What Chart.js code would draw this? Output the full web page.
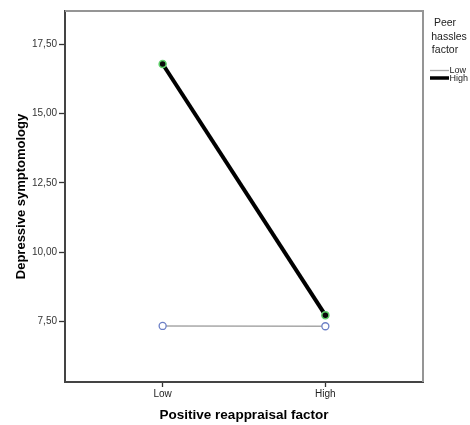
<!DOCTYPE html>
<html>
<head>
<meta charset="utf-8">
<script src="https://cdn.jsdelivr.net/npm/chart.js@4"></script>
<style>
  html, body { margin: 0; padding: 0; background: #fff; }
  #wrap { width: 470px; height: 425px; }
</style>
</head>
<body>
<div id="wrap"><canvas id="c" width="470" height="425"></canvas></div>
<script>
// ---- data ----
const categories = ["Low", "High"];               // Positive reappraisal factor
const seriesNames = ["Low", "High"];              // Peer hassles factor
const lowPeerValues = [7.34, 7.33];
const highPeerValues = [16.78, 7.73];
const yTickValues = [7.5, 10, 12.5, 15, 17.5];
const yRange = [5.32, 18.69];
const legendTitleLines = ["Peer", "hassles", "factor"];

const FONT = "'Liberation Sans', Arial, sans-serif";

function toPoints(vals) {
  return vals.map((v, i) => ({ x: i, y: v }));
}

const framePlugin = {
  id: 'frame',
  afterDraw(chart) {
    const { ctx, chartArea: a } = chart;
    ctx.save();
    ctx.strokeStyle = '#959595';
    ctx.lineWidth = 2;
    ctx.beginPath();
    ctx.moveTo(a.left, a.top);
    ctx.lineTo(a.right, a.top);
    ctx.lineTo(a.right, a.bottom);
    ctx.stroke();
    ctx.restore();
  }
};

const legendPlugin = {
  id: 'customLegend',
  afterDraw(chart) {
    const { ctx } = chart;
    ctx.save();
    ctx.fillStyle = '#222';
    ctx.font = "10.5px " + FONT;
    ctx.textAlign = 'center';
    ctx.textBaseline = 'middle';
    const ys = [23, 37, 50];
    legendTitleLines.forEach((t, i) => {
      const cx = i === 1 ? 449 : 445;
      ctx.fillText(t, cx, ys[i]);
    });
    const ds = chart.data.datasets;
    const rowY = [70.5, 78];
    ds.forEach((d, i) => {
      ctx.strokeStyle = d.borderColor;
      ctx.lineWidth = i === 0 ? 1.3 : 3.5;
      ctx.beginPath();
      ctx.moveTo(430, rowY[i]);
      ctx.lineTo(449, rowY[i]);
      ctx.stroke();
      ctx.textAlign = 'left';
      ctx.font = "9px " + FONT;
      ctx.fillText(d.label, 449.5, rowY[i] + 0.5);
    });
    ctx.restore();
  }
};

new Chart(document.getElementById('c'), {
  type: 'line',
  data: {
    datasets: [
      {
        label: seriesNames[0],
        data: toPoints(lowPeerValues),
        borderColor: '#a8a8a8',
        borderWidth: 1.5,
        pointRadius: 3.5,
        pointBorderWidth: 1.3,
        pointBorderColor: '#6b7fc6',
        pointBackgroundColor: '#ffffff',
        order: 2
      },
      {
        label: seriesNames[1],
        data: toPoints(highPeerValues),
        borderColor: '#000000',
        borderWidth: 4,
        pointRadius: 3.5,
        pointBorderWidth: 1.5,
        pointBorderColor: '#5fcf6a',
        pointBackgroundColor: '#0a0a0a',
        order: 1
      }
    ]
  },
  options: {
    responsive: false,
    animation: false,
    devicePixelRatio: 1,
    layout: { padding: { top: 11, right: 47, left: 0, bottom: 0 } },
    plugins: { legend: { display: false }, tooltip: { enabled: false } },
    scales: {
      x: {
        type: 'linear',
        min: -0.6,
        max: 1.6,
        afterBuildTicks(scale) {
          scale.ticks = categories.map((c, i) => ({ value: i }));
        },
        afterFit(scale) { scale.height = 43; },
        ticks: {
          callback: (v) => categories[v] ?? '',
          color: '#222',
          font: { family: FONT, size: 10 },
          padding: 1,
          maxRotation: 0
        },
        grid: {
          drawOnChartArea: false,
          tickLength: 5,
          tickColor: '#333',
          tickWidth: 1.3
        },
        border: { color: '#444', width: 2 },
        title: {
          display: true,
          text: 'Positive reappraisal factor',
          color: '#000',
          font: { family: FONT, size: 13.5, weight: 'bold' },
          padding: { top: 0, bottom: 2 }
        }
      },
      y: {
        type: 'linear',
        min: yRange[0],
        max: yRange[1],
        afterBuildTicks(scale) {
          scale.ticks = yTickValues.map(v => ({ value: v }));
        },
        afterFit(scale) { scale.width = 65; },
        ticks: {
          callback: (v) => v.toFixed(2).replace('.', ','),
          color: '#333',
          font: { family: FONT, size: 10 },
          padding: 2
        },
        grid: {
          drawOnChartArea: false,
          tickLength: 6,
          tickColor: '#333',
          tickWidth: 1.3
        },
        border: { color: '#444', width: 2 },
        title: {
          display: true,
          text: 'Depressive symptomology',
          color: '#000',
          font: { family: FONT, size: 13, weight: 'bold' },
          padding: { top: 14, bottom: 0 }
        }
      }
    }
  },
  plugins: [framePlugin, legendPlugin]
});
</script>
</body>
</html>
